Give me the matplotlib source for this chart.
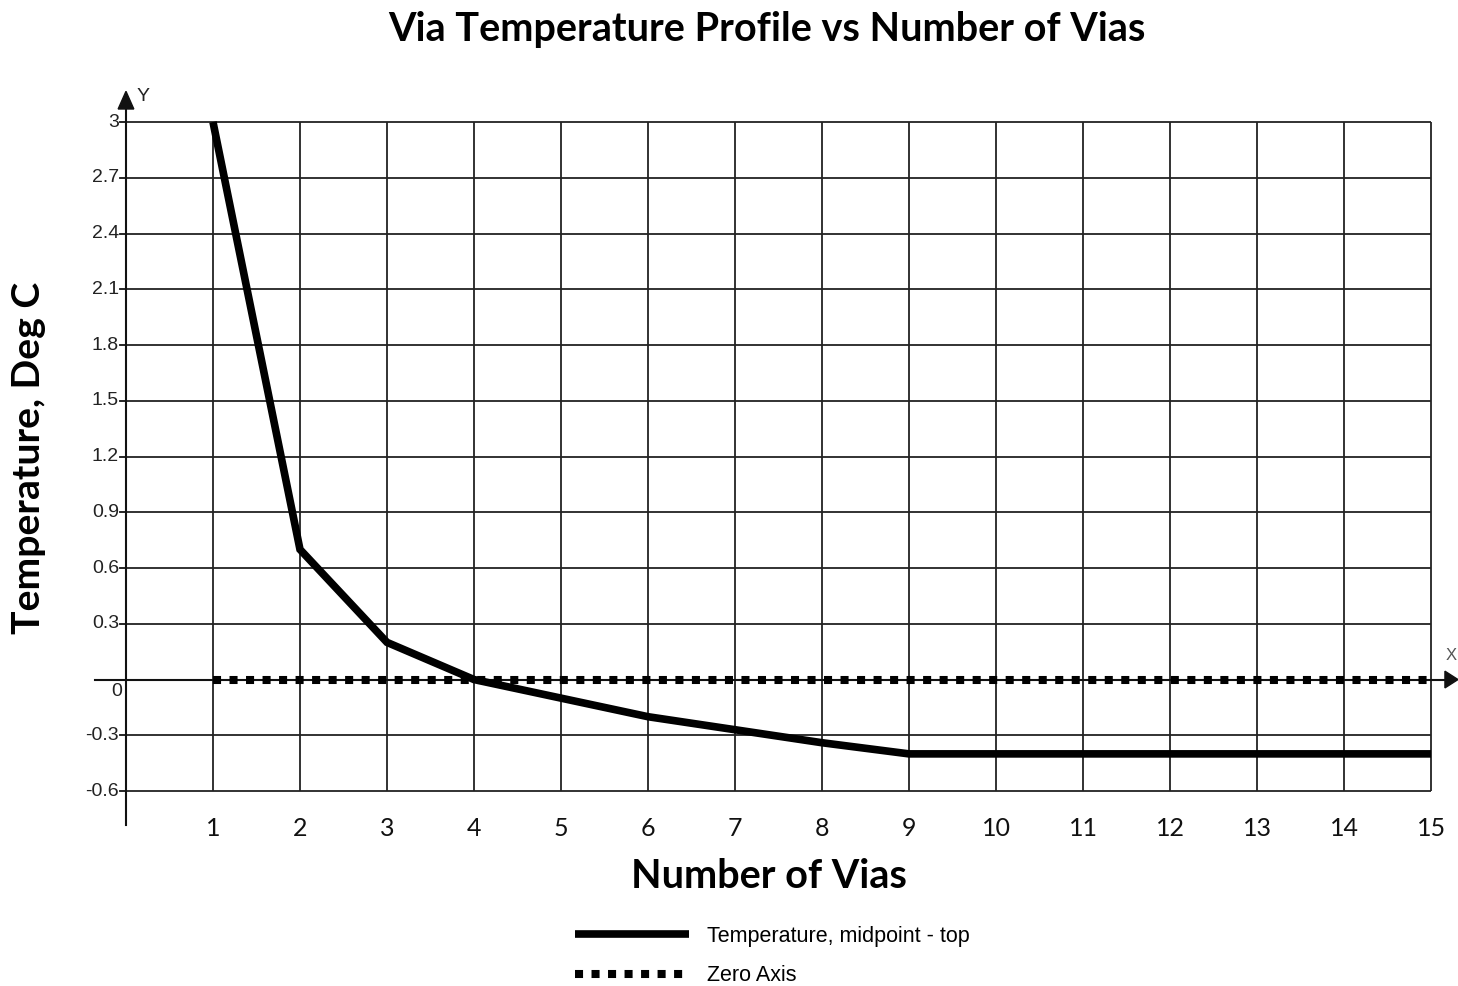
import matplotlib
matplotlib.use("Agg")
import matplotlib.pyplot as plt
from matplotlib.patches import Polygon

# ---- data ----
n_vias = [1, 2, 3, 4, 5, 6, 7, 8, 9, 10, 11, 12, 13, 14, 15]
temperature = [3.0, 0.7, 0.2, 0.0, -0.1, -0.2, -0.27, -0.34, -0.4,
               -0.4, -0.4, -0.4, -0.4, -0.4, -0.4]
zero_axis = [0.0] * len(n_vias)
y_ticks = [3, 2.7, 2.4, 2.1, 1.8, 1.5, 1.2, 0.9, 0.6, 0.3, 0, -0.3, -0.6]
y_tick_labels = ["3", "2.7", "2.4", "2.1", "1.8", "1.5", "1.2", "0.9",
                 "0.6", "0.3", "0", "-0.3", "-0.6"]
x_ticks = n_vias
x_tick_labels = [str(v) for v in n_vias]

title = "Via Temperature Profile vs Number of Vias"
x_label = "Number of Vias"
y_label = "Temperature, Deg C"
series_names = ["Temperature, midpoint - top", "Zero Axis"]

# ---- figure: one axes spanning the canvas, data coords used throughout ----
W, H = 1458, 986
fig = plt.figure(figsize=(W / 100, H / 100), dpi=100)
ax = fig.add_axes([0, 0, 1, 1])
XMIN, XMAX = -1.448, 15.31
YMIN, YMAX = -1.649, 3.6565
ax.set_xlim(XMIN, XMAX)
ax.set_ylim(YMIN, YMAX)
ax.axis("off")

ink = "#111111"
grid_kw = dict(color="#222222", lw=1.3, zorder=1)
small_font = ["Liberation Sans Narrow", "Liberation Sans"]

x_lo, x_hi = 0, max(n_vias)
y_lo, y_hi = min(y_ticks), max(y_ticks)

# grid
ax.vlines(x_ticks, y_lo, y_hi, **grid_kw)
ax.hlines([v for v in y_ticks if v != 0], x_lo, x_hi, **grid_kw)

# axes lines with arrow heads
ax.plot([x_lo, x_lo], [-0.78, 3.1], color=ink, lw=1.5, zorder=2)
ax.plot([-0.356, 15.2], [0, 0], color=ink, lw=1.5, zorder=2)
ax.add_patch(Polygon([[x_lo - 0.09, 3.07], [x_lo + 0.09, 3.07], [x_lo, 3.165]],
                     closed=True, color=ink, zorder=3))
ax.add_patch(Polygon([[15.16, -0.045], [15.16, 0.045], [15.31, 0]],
                     closed=True, color=ink, zorder=3))
ax.text(x_lo + 0.12, 3.135, "Y", fontsize=14, family=small_font,
        ha="left", va="center", color="#222222")
ax.text(15.30, 0.13, "X", fontsize=12, family=small_font,
        ha="right", va="center", color="#555555")

# y tick marks and labels
for v, lab in zip(y_ticks, y_tick_labels):
    if v != 0:
        ax.plot([x_lo - 0.07, x_lo], [v, v], color=ink, lw=1.3, zorder=2)
        ax.text(x_lo - 0.08, v, lab, fontsize=14, family=small_font,
                ha="right", va="center", color="#222222")
    else:
        ax.text(x_lo - 0.04, v - 0.065, lab, fontsize=14, family=small_font,
                ha="right", va="center", color="#222222")

# x tick labels
for v, lab in zip(x_ticks, x_tick_labels):
    ax.text(v, -0.80, lab, fontsize=18, family="Lato",
            ha="center", va="center", color="#111111")

# series
temp_line, = ax.plot(n_vias, temperature, color="black", lw=5.5,
                     solid_joinstyle="miter", solid_capstyle="butt", zorder=5,
                     label=series_names[0])
zero_line, = ax.plot(n_vias, zero_axis, color="black", lw=5.8,
                     linestyle=(0, (1, 1.05)), dash_capstyle="butt", zorder=4,
                     label=series_names[1])

# titles
fig.text(767 / W, 1 - 29 / H, title, fontsize=28.5, family="Lato",
         weight="bold", ha="center", va="center")
fig.text(769 / W, 1 - 876 / H, x_label, fontsize=28.5, family="Lato",
         weight="bold", ha="center", va="center")
fig.text(29 / W, 1 - 458 / H, y_label, fontsize=28.2, family="Lato",
         weight="bold", ha="center", va="center", rotation=90)

# legend
leg = fig.legend(handles=[temp_line, zero_line], loc="upper left",
                 bbox_to_anchor=(575 / W, 1 - 926 / H), frameon=False,
                 prop={"family": small_font, "size": 15.5},
                 handlelength=5.3, handletextpad=0.85, labelspacing=0.85,
                 borderpad=0, borderaxespad=0)

fig.savefig("out.png", dpi=100, facecolor="white")
